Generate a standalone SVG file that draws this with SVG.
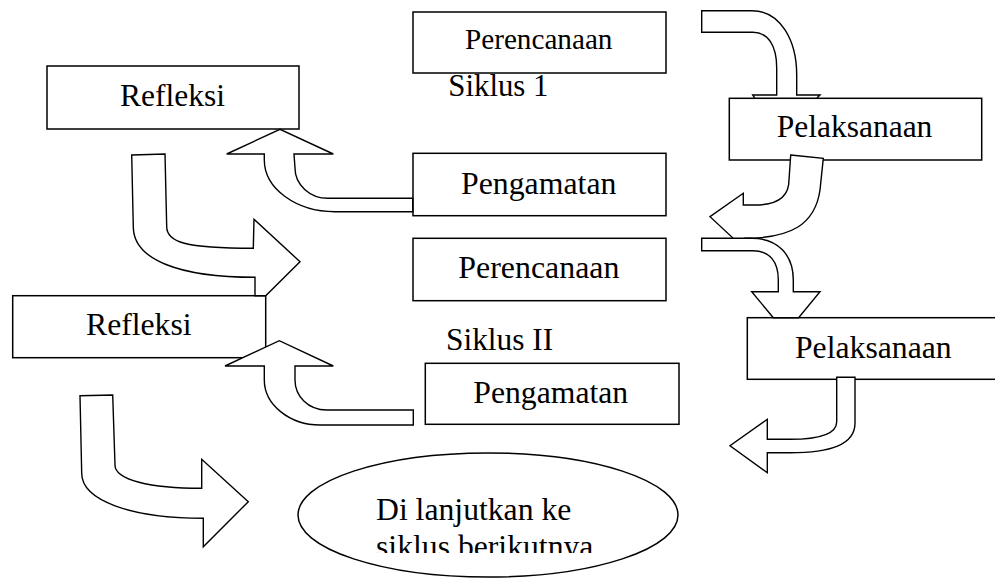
<svg xmlns="http://www.w3.org/2000/svg" width="995" height="578" viewBox="0 0 995 578">
<style>
.box{fill:#fff;stroke:#000;stroke-width:1.5}
.arr{fill:#fff;stroke:#000;stroke-width:1.4;stroke-linejoin:miter}
text{font-family:"Liberation Serif","Times New Roman",serif;fill:#000}
</style>
<defs>
<clipPath id="clipEll"><rect x="0" y="0" width="995" height="553"/></clipPath>
</defs>
<rect width="995" height="578" fill="#fff"/>
<g id="refleksi1"><rect class="box" x="47" y="66" width="252" height="63"/><text x="120" y="106" font-size="31.5">Refleksi</text></g>
<g id="perencanaan1"><rect class="box" x="413" y="12" width="253" height="61"/><text x="465" y="49.3" font-size="29.2">Perencanaan</text></g>
<g id="siklus1"><text x="448.3" y="96" font-size="30.8">Siklus 1</text></g>
<g id="pelaksanaan1"><rect class="box" x="729.3" y="98.3" width="252.4" height="61.7"/><text x="776.7" y="137.3" font-size="31.5">Pelaksanaan</text></g>
<g id="pengamatan1"><rect class="box" x="413" y="153.3" width="253" height="62.4"/><text x="461" y="194" font-size="31.8">Pengamatan</text></g>
<g id="perencanaan2"><rect class="box" x="413" y="238.3" width="253" height="62.4"/><text x="458.3" y="278.3" font-size="31.9">Perencanaan</text></g>
<g id="refleksi2"><rect class="box" x="12.7" y="295.7" width="253" height="62"/><text x="86" y="335" font-size="31.7">Refleksi</text></g>
<g id="siklus2"><text x="446" y="350" font-size="31.4">Siklus II</text></g>
<g id="pelaksanaan2"><rect class="box" x="747.3" y="317.7" width="260" height="61.6"/><text x="795" y="357.7" font-size="31.7">Pelaksanaan</text></g>
<g id="pengamatan2"><rect class="box" x="425.3" y="363.3" width="253.7" height="61"/><text x="473.3" y="403.3" font-size="31.7">Pengamatan</text></g>
<g id="lanjut"><ellipse class="box" cx="488" cy="515" rx="190" ry="62"/><text x="376" y="520" font-size="31.7">Di lanjutkan ke</text><text x="376" y="557" font-size="31.7" clip-path="url(#clipEll)">siklus berikutnya</text></g>
<g id="connectors">
<path class="arr" d="M701.7 10.7 L752 10.7 C780 10.7 796.7 40 796.7 75 L796.7 95 L820 95 L816.7 98.3 L755 98.3 L752.7 95 L776.7 95 L776.7 68 C776.7 45 768 32.3 752.7 32.3 L701.7 32.3 Z"/>
<path class="arr" d="M790.7 155 L823.3 158.3 L820 190 C815 225 790 238.3 745 238.3 L743.3 247.7 L710 216.7 L743.3 193.3 L743.3 205 L755 205 C775 205 789 198 789 180 Z"/>
<path class="arr" d="M701.7 238.3 L752 238.3 C778 238.3 793.3 255 793.3 280 L793.3 291.7 L820 291.7 L798.6 317.7 L773.3 317.7 L751.7 291.7 L778.3 291.7 L778.3 280 C778.3 262 770 250.7 753 250.7 L701.7 250.7 Z"/>
<path class="arr" d="M836.7 377.3 L855 377.3 L855 423 C855 445 830 452.7 790 452.7 L767.3 452.7 L767.3 472.7 L730 445.7 L767.3 419.3 L767.3 439.3 L790 439.3 C825 439.3 836.7 432 836.7 421.7 Z"/>
<path class="arr" d="M412.7 198.3 L328 198.3 C309.8 198.3 295 184.7 295 168 L294 154 L333.3 154 L280 129.3 L226.7 154 L264.3 154 L264.3 160 C264.3 188.4 296 211.7 335 211.7 L412.7 211.7 Z"/>
<path class="arr" d="M131.7 155 L165 154 L166.7 226.7 C166.7 242 185 248.3 253.3 248.3 L254 219.3 L300 261.7 L265.7 295.7 L255 295.7 L255 277.3 C180 277.3 133.3 260 133.3 226.7 Z"/>
<path class="arr" d="M413.3 410 L326.7 410 C308 410 295 396 295 380 L295 366 L333.3 366 L279.3 340.7 L225 366 L264.3 366 L264.3 380 C264.3 405 290 425 320 425 L413.3 425 Z"/>
<path class="arr" d="M80 395.7 L112.7 395 L115 465 C115 480 150 488.3 201.7 488.3 L201.7 459.3 L248.3 501.7 L203.3 546.7 L203.3 518.3 C130 518.3 81.7 500 81.7 473.3 Z"/>
</g>
</svg>
